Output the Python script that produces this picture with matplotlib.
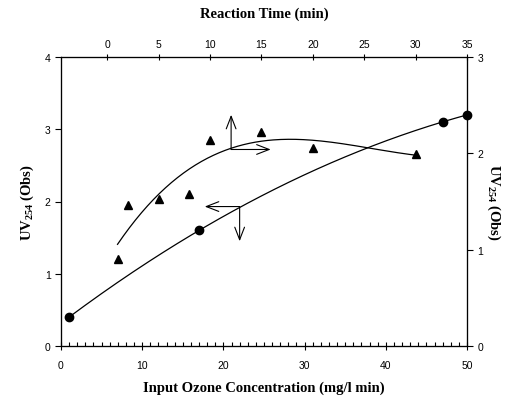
import numpy as np
import matplotlib
matplotlib.use('Agg')
import matplotlib.pyplot as plt
from matplotlib.ticker import MultipleLocator

# circles: input ozone (bottom) vs UV254 (left)
ozone = [1, 17, 47, 50]
uv_ozone = [0.4, 1.6, 3.1, 3.2]

# triangles: reaction time (top) vs UV254 (right)
rtime = [1, 2, 5, 8, 10, 15, 20, 30]
uv_time = [0.9, 1.46, 1.53, 1.58, 2.14, 2.22, 2.06, 1.99]

plt.rcParams['font.family'] = ['Liberation Sans', 'DejaVu Sans']
plt.rcParams['mathtext.fontset'] = 'custom'
plt.rcParams['mathtext.rm'] = 'Liberation Serif:bold'
plt.rcParams['mathtext.it'] = 'Liberation Serif:bold'
plt.rcParams['mathtext.bf'] = 'Liberation Serif:bold'
serif = 'Liberation Serif'
uv_label = r'UV$_{\mathrm{254}}$ (Obs)'

fig = plt.figure(figsize=(5.09, 4.02), dpi=100)
ax = fig.add_axes([61 / 509, 1 - 347 / 402, 406 / 509, 289 / 402])

# circle series with smooth fitted line
c1 = np.polyfit(ozone, uv_ozone, 2)
xs = np.linspace(min(ozone), max(ozone), 200)
ax.plot(xs, np.polyval(c1, xs), color='black', lw=0.9)
ax.plot(ozone, uv_ozone, 'o', color='black', ms=6, clip_on=False, zorder=5)
ax.set_xlim(0, 50)
ax.set_ylim(0, 4)
ax.set_yticks([0, 1, 2, 3, 4])
ax.set_xticks([0, 10, 20, 30, 40, 50])
ax.xaxis.set_minor_locator(MultipleLocator(1))
ax.tick_params(axis='x', which='major', direction='inout', length=6, labelsize=7.5, width=0.8, pad=7)
ax.tick_params(axis='x', which='minor', direction='in', length=3, width=0.8)
ax.tick_params(axis='y', direction='out', length=4, labelsize=7.5, width=0.8)
ax.set_xlabel('Input Ozone Concentration (mg/l min)', family=serif, fontweight='bold', fontsize=10.5, labelpad=8)
ax.set_ylabel(uv_label, family=serif, fontweight='bold', fontsize=10.5, labelpad=6)

# triangle series on top/right axes, cubic trend line
ax2 = ax.twinx().twiny()
ax2.plot(rtime, uv_time, '^', color='black', ms=6)
c2 = np.polyfit(rtime, uv_time, 3)
ts = np.linspace(min(rtime), max(rtime), 200)
ax2.plot(ts, np.polyval(c2, ts), color='black', lw=0.9)
ax2.set_xlim(-4.5, 35)
ax2.set_ylim(0, 3)
ax2.set_xticks([0, 5, 10, 15, 20, 25, 30, 35])
ax2.tick_params(axis='x', direction='inout', length=5, labelsize=7.5, width=0.8)
ax2.set_xlabel('Reaction Time (min)', family=serif, fontweight='bold', fontsize=10.5, labelpad=16)

axr = fig.axes[1]
axr.set_ylim(0, 3)
axr.set_yticks([0, 1, 2, 3])
axr.tick_params(axis='y', direction='out', length=4, labelsize=7.5, width=0.8)
axr.set_ylabel(uv_label, family=serif, fontweight='bold', fontsize=10.5, rotation=-90, labelpad=14)

for a in (ax, ax2, axr):
    for s in a.spines.values():
        s.set_linewidth(0.8)

# axis indicator arrows
arr = dict(arrowstyle='->,head_length=0.9,head_width=0.35', color='black', lw=0.8, shrinkA=0, shrinkB=0)
ax2.annotate('', xy=(12.05, 2.40), xytext=(12.05, 2.04), arrowprops=arr)
ax2.annotate('', xy=(15.9, 2.04), xytext=(12.05, 2.04), arrowprops=arr)
ax.annotate('', xy=(17.7, 1.93), xytext=(22.0, 1.93), arrowprops=arr)
ax.annotate('', xy=(22.0, 1.45), xytext=(22.0, 1.93), arrowprops=arr)

fig.savefig('out.png', dpi=100)
